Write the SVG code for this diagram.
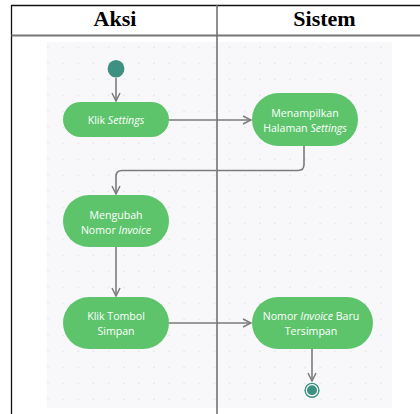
<svg xmlns="http://www.w3.org/2000/svg" width="420" height="414" viewBox="0 0 420 414">
  <defs>
    <pattern id="dots" x="47.3" y="46.7" width="15.12" height="16" patternUnits="userSpaceOnUse">
      <circle cx="0.8" cy="0.8" r="0.8" fill="#d9dbe2"/>
    </pattern>
    <marker id="arrow" viewBox="0 0 10 10" refX="9" refY="5" markerWidth="10" markerHeight="10" markerUnits="userSpaceOnUse" orient="auto">
      <path d="M1,1 L9,5 L1,9" fill="none" stroke="#7b7b7b" stroke-width="1.5"/>
    </marker>
  </defs>
  <style>
    .hdr { font-family: "Liberation Serif", "Times New Roman", serif; font-weight: bold; font-size: 22px; fill: #000; text-anchor: middle; }
    .act { fill: #5dc46b; }
    .lbl { font-family: "Open Sans", "Noto Sans", sans-serif; font-size: 10.6px; fill: #ffffff; text-anchor: middle; }
    .edge { fill: none; stroke: #7b7b7b; stroke-width: 1.6; marker-end: url(#arrow); }
  </style>

  <rect width="420" height="414" fill="#ffffff"/>

  <!-- swimlane table -->
  <g id="lanes">
    <text class="hdr" x="115" y="26">Aksi</text>
    <text class="hdr" x="324.5" y="26">Sistem</text>
    <line x1="11.5" y1="5.5" x2="420" y2="5.5" stroke="#111" stroke-width="1.3"/>
    <line x1="11.5" y1="5" x2="11.5" y2="414" stroke="#111" stroke-width="1.3"/>
    <line x1="11.5" y1="35.5" x2="420" y2="35.5" stroke="#777" stroke-width="2"/>
  </g>

  <!-- drawing canvas -->
  <rect x="47" y="42" width="345" height="366" fill="#f8f8fb"/>
  <rect x="47" y="42" width="345" height="366" fill="url(#dots)"/>
  <line x1="217" y1="5" x2="217" y2="414" stroke="#6a6a6a" stroke-width="1.5"/>

  <!-- connectors -->
  <g id="connectors">
    <path class="edge" d="M116,78 V101"/>
    <path class="edge" d="M169,120 H251"/>
    <path class="edge" d="M304,146 V164.5 Q304,170.5 298,170.5 H122 Q116,170.5 116,176.5 V194"/>
    <path class="edge" d="M116,247 V296"/>
    <path class="edge" d="M169,323 H251"/>
    <path class="edge" d="M312,349 V381"/>
  </g>

  <g id="start">
    <ellipse cx="116" cy="68.8" rx="8.4" ry="8.8" fill="#3e9080"/>
  </g>

  <g id="klik-settings">
    <rect class="act" x="63" y="102" width="106" height="35" rx="17.5"/>
    <text class="lbl" x="116" y="123.7">Klik <tspan font-style="italic">Settings</tspan></text>
  </g>

  <g id="menampilkan-halaman">
    <rect class="act" x="252" y="93" width="106" height="53" rx="26.5"/>
    <text class="lbl" x="305" y="117">Menampilkan</text>
    <text class="lbl" x="305" y="132">Halaman <tspan font-style="italic">Settings</tspan></text>
  </g>

  <g id="mengubah-nomor">
    <rect class="act" x="63" y="195" width="106" height="52" rx="26"/>
    <text class="lbl" x="116" y="218.7">Mengubah</text>
    <text class="lbl" x="116" y="233.7">Nomor <tspan font-style="italic">Invoice</tspan></text>
  </g>

  <g id="klik-simpan">
    <rect class="act" x="63" y="297" width="106" height="52" rx="26"/>
    <text class="lbl" x="116" y="319.7">Klik Tombol</text>
    <text class="lbl" x="116" y="335.2">Simpan</text>
  </g>

  <g id="invoice-tersimpan">
    <rect class="act" x="252" y="297" width="121" height="52" rx="26"/>
    <text class="lbl" x="311" y="319.7">Nomor <tspan font-style="italic">Invoice</tspan> Baru</text>
    <text class="lbl" x="311" y="335.2">Tersimpan</text>
  </g>

  <g id="end">
    <circle cx="312" cy="390.3" r="7.6" fill="#3e9080"/>
    <circle cx="312" cy="390.3" r="5.6" fill="none" stroke="#ffffff" stroke-width="1.2"/>
  </g>
</svg>
